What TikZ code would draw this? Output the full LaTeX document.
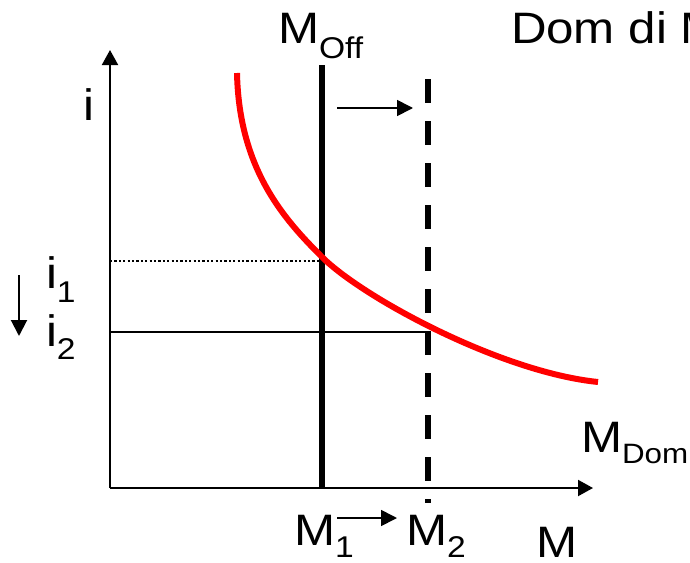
\documentclass[tikz,border=0pt]{standalone}
\usepackage{fontspec}
\setmainfont{Liberation Sans}[FakeStretch=1.12]
\usetikzlibrary{arrows.meta}
\newcommand{\subtxt}[2]{\raisebox{-#1pt}{\fontsize{30}{30}\selectfont #2}}
\begin{document}
\begin{tikzpicture}[x=1pt,y=-1pt,
  lbl/.style={anchor=base west, inner sep=0pt, outer sep=0pt, font=\fontsize{44}{50}\selectfont},
  axisline/.style={line width=2pt, -{Triangle[length=15pt,width=16pt]}},
  shiftarrow/.style={line width=1.7pt, -{Triangle[length=16pt,width=16pt]}},
  supplyline/.style={line width=6pt},
  newsupply/.style={line width=6pt, dash pattern=on 24pt off 18pt},
  demand/.style={line width=6pt, color={rgb,255:red,255;green,0;blue,0}},
  guide/.style={line width=2pt},
  dottedguide/.style={line width=2pt, dash pattern=on 2.2pt off 2.2pt}]
\useasboundingbox (0,0) rectangle (690,562);
\fill[white] (0,0) rectangle (690,562);

% coordinates
\coordinate (O) at (110,488);
\coordinate (Ytip) at (110,50);
\coordinate (Xtip) at (593,488);
\coordinate (S1top) at (322,65);
\coordinate (S1bot) at (322,488);
\coordinate (S2top) at (428,79);
\coordinate (S2bot) at (428,503);
\coordinate (E1) at (322,261);
\coordinate (I1) at (110,261);
\coordinate (E2) at (428,332);
\coordinate (I2) at (110,332);
\coordinate (ShA) at (337,108);
\coordinate (ShB) at (413,108);
\coordinate (DnA) at (19,275);
\coordinate (DnB) at (19,336);
\coordinate (MA) at (337,518);
\coordinate (MB) at (397,518);
\coordinate (Dstart) at (237,73);
\coordinate (Dmid) at (322,257);
\coordinate (Dend) at (598,382);

% axes
\draw[axisline] (O) -- (Ytip);
\draw[axisline] (O) -- (Xtip);

% guide lines
\draw[dottedguide] (I1) -- (E1);
\draw[guide] (I2) -- (E2);

% supply lines
\draw[supplyline] (S1top) -- (S1bot);
\draw[newsupply] (S2top) -- (S2bot);

% demand curve
\draw[demand] (Dstart) .. controls (239,170) and (285,220) .. (Dmid)
  .. controls (362,297) and (500,372) .. (Dend);

% arrows
\draw[shiftarrow] (ShA) -- (ShB);
\draw[shiftarrow, line width=2pt] (DnA) -- (DnB);
\draw[shiftarrow] (MA) -- (MB);

% labels
\node[lbl] (moff) at (278,43) {M\subtxt{15}{Off}};
\node[lbl] (title) at (511,43) {Dom di M};
\node[lbl] (ilab) at (83,120) {i};
\node[lbl] (i1) at (46,288) {i\subtxt{14}{1}};
\node[lbl] (i2) at (46,346) {i\subtxt{13}{2}};
\node[lbl] (mdom) at (581,452) {M\raisebox{-11pt}{\fontsize{28}{28}\selectfont Dom}};
\node[lbl] (m1) at (294,545) {M\subtxt{12}{1}};
\node[lbl] (m2) at (406,545) {M\subtxt{12}{2}};
\node[lbl] (mx) at (536,557) {M};
\end{tikzpicture}
\end{document}
